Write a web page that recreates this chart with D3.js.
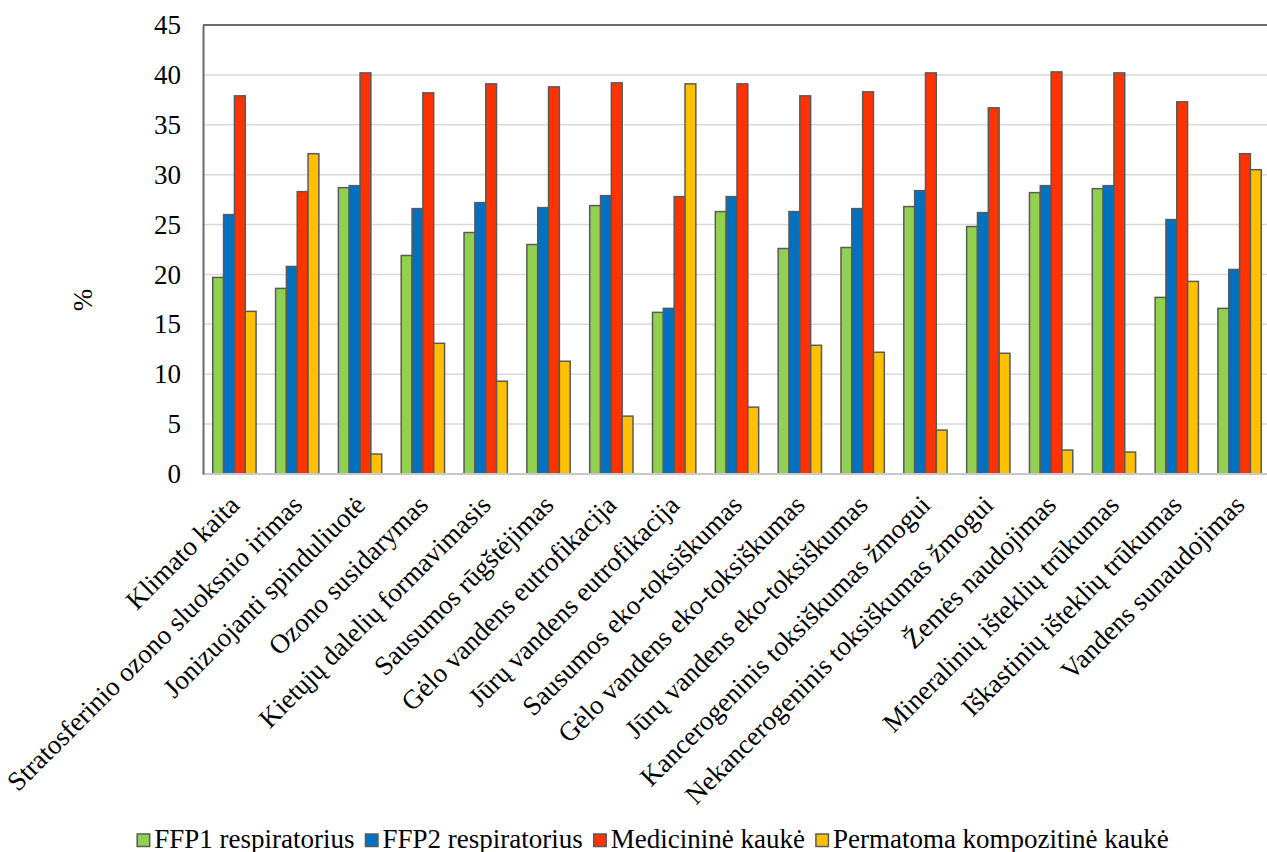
<!DOCTYPE html>
<html>
<head>
<meta charset="utf-8">
<script src="https://cdn.jsdelivr.net/npm/d3@7"></script>
</head>
<body style="margin:0;padding:0;background:#fff">
<svg id="chart" width="1267" height="852" style="display:block"></svg>
<script>
// Environmental impact categories (LCA midpoints)
const categories = [
  "Klimato kaita",
  "Stratosferinio ozono sluoksnio irimas",
  "Jonizuojanti spinduliuotė",
  "Ozono susidarymas",
  "Kietųjų dalelių formavimasis",
  "Sausumos rūgštėjimas",
  "Gėlo vandens eutrofikacija",
  "Jūrų vandens eutrofikacija",
  "Sausumos eko-toksiškumas",
  "Gėlo vandens eko-toksiškumas",
  "Jūrų vandens eko-toksiškumas",
  "Kancerogeninis toksiškumas žmogui",
  "Nekancerogeninis toksiškumas žmogui",
  "Žemės naudojimas",
  "Mineralinių išteklių trūkumas",
  "Iškastinių išteklių trūkumas",
  "Vandens sunaudojimas"
];

const seriesNames = [
  "FFP1 respiratorius",
  "FFP2 respiratorius",
  "Medicininė kaukė",
  "Permatoma kompozitinė kaukė"
];

// Share of each mask type per category, %
const ffp1     = [19.7, 18.6, 28.7, 21.9, 24.2, 23.0, 26.9, 16.2, 26.3, 22.6, 22.7, 26.8, 24.8, 28.2, 28.6, 17.7, 16.6];
const ffp2     = [26.0, 20.8, 28.9, 26.6, 27.2, 26.7, 27.9, 16.6, 27.8, 26.3, 26.6, 28.4, 26.2, 28.9, 28.9, 25.5, 20.5];
const medical  = [37.9, 28.3, 40.2, 38.2, 39.1, 38.8, 39.2, 27.8, 39.1, 37.9, 38.3, 40.2, 36.7, 40.3, 40.2, 37.3, 32.1];
const permatoma= [16.3, 32.1,  2.0, 13.1,  9.3, 11.3,  5.8, 39.1,  6.7, 12.9, 12.2,  4.4, 12.1,  2.4,  2.2, 19.3, 30.5];

const yTicks = [0, 5, 10, 15, 20, 25, 30, 35, 40, 45];
const colors = ["#92D050", "#0070C0", "#FF3300", "#FFC000"];

const seriesValues = [ffp1, ffp2, medical, permatoma];

const FONT = "Liberation Serif";
const FONT_SIZE = "27px";

const svg = d3.select("#chart");
const plotLeft = 203, plotRight = 1271, plotTop = 25, plotBottom = 474;

const x0 = d3.scaleBand().domain(categories).range([plotLeft, plotRight]).padding(0);
const x1 = d3.scaleBand().domain(seriesNames).range([0, x0.bandwidth()])
  .paddingInner(0).paddingOuter(0.9);
const y = d3.scaleLinear().domain([0, 45]).range([plotBottom, plotTop]);

function serifText(sel) {
  sel.attr("font-family", FONT)
    .style("font-family", `'${FONT}'`)
    .style("font-size", FONT_SIZE)
    .attr("fill", "#000");
}

// horizontal gridlines
svg.append("g")
  .selectAll("line")
  .data(yTicks.filter(t => t > 0 && t < 45))
  .join("line")
  .attr("x1", plotLeft).attr("x2", plotRight)
  .attr("y1", d => y(d)).attr("y2", d => y(d))
  .attr("stroke", "#d9d9d9").attr("stroke-width", 1.5);

// top frame line
svg.append("line")
  .attr("x1", plotLeft).attr("x2", plotRight)
  .attr("y1", y(45)).attr("y2", y(45))
  .attr("stroke", "#6a6a6a").attr("stroke-width", 2);

// bars
const groups = svg.append("g")
  .selectAll("g")
  .data(categories)
  .join("g")
  .attr("transform", d => `translate(${x0(d)},0)`);

groups.selectAll("rect")
  .data((c, i) => seriesNames.map((s, k) => ({ s, k, v: seriesValues[k][i] })))
  .join("rect")
  .attr("x", d => x1(d.s))
  .attr("width", x1.bandwidth())
  .attr("y", d => y(d.v))
  .attr("height", d => y(0) - y(d.v))
  .attr("fill", d => colors[d.k])
  .attr("stroke", "#5a5a5a")
  .attr("stroke-width", 1.5);

// x baseline
svg.append("line")
  .attr("x1", plotLeft).attr("x2", plotRight)
  .attr("y1", y(0)).attr("y2", y(0))
  .attr("stroke", "#c8c8c8").attr("stroke-width", 2);

// y axis
const yAxis = d3.axisLeft(y).tickValues(yTicks).tickSize(0).tickPadding(22);
const yg = svg.append("g").attr("transform", `translate(${plotLeft},0)`).call(yAxis);
yg.attr("font-family", FONT).attr("font-size", 27);
yg.select(".domain").attr("stroke", "#6a6a6a").attr("stroke-width", 2);
yg.selectAll("text").call(serifText);

// y axis title
svg.append("text")
  .attr("transform", "translate(92,300) rotate(-90)")
  .attr("text-anchor", "middle")
  .call(serifText)
  .text("%");

// category labels
svg.append("g")
  .selectAll("text")
  .data(categories)
  .join("text")
  .attr("transform", d => `translate(${x0(d) + x0.bandwidth() / 2},500) rotate(-45)`)
  .attr("text-anchor", "end")
  .attr("dy", "0.35em")
  .call(serifText)
  .text(d => d);

// legend
const legend = svg.append("g");
const items = legend.selectAll("g")
  .data(seriesNames)
  .join("g");
items.append("rect")
  .attr("width", 12.5).attr("height", 12.5)
  .attr("y", 834)
  .attr("fill", (d, i) => colors[i])
  .attr("stroke", "#5a5a5a").attr("stroke-width", 1.5);
items.append("text")
  .attr("x", 17)
  .attr("y", 848)
  .call(serifText)
  .text(d => d);

let offsets = [], cursor = 0;
items.each(function () {
  offsets.push(cursor);
  const w = d3.select(this).select("text").node().getComputedTextLength();
  cursor += 17 + w + 11;
});
const totalWidth = cursor - 11;
const startX = 653 - totalWidth / 2;
items.attr("transform", (d, i) => `translate(${startX + offsets[i]},0)`);
</script>
</body>
</html>
